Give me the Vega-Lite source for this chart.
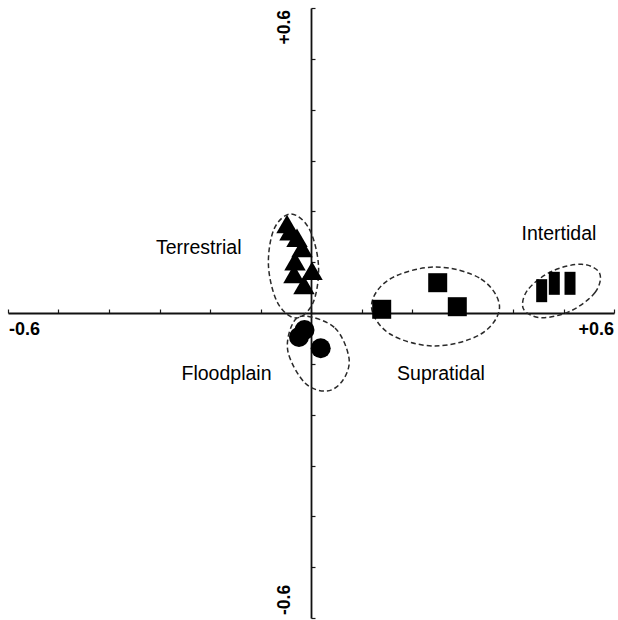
{
  "$schema": "https://vega.github.io/schema/vega-lite/v6.json",
  "width": 606,
  "height": 610,
  "autosize": {"type": "none"},
  "padding": {"left": 8, "top": 8, "right": 4, "bottom": 2},
  "background": "white",
  "config": {"view": {"stroke": null}, "font": "Liberation Sans"},
  "datasets": {
    "samples": [
      {"habitat": "Terrestrial", "x": -0.0475, "y": 0.175},
      {"habitat": "Terrestrial", "x": -0.0416, "y": 0.161},
      {"habitat": "Terrestrial", "x": -0.0277, "y": 0.148},
      {"habitat": "Terrestrial", "x": -0.0178, "y": 0.128},
      {"habitat": "Terrestrial", "x": -0.0317, "y": 0.102},
      {"habitat": "Terrestrial", "x": 0.002, "y": 0.083},
      {"habitat": "Terrestrial", "x": -0.0337, "y": 0.077},
      {"habitat": "Terrestrial", "x": -0.0139, "y": 0.055},
      {"habitat": "Floodplain", "x": -0.0129, "y": -0.0334},
      {"habitat": "Floodplain", "x": -0.0238, "y": -0.0472},
      {"habitat": "Floodplain", "x": 0.0192, "y": -0.0694},
      {"habitat": "Supratidal", "x": 0.140, "y": 0.0073},
      {"habitat": "Supratidal", "x": 0.2509, "y": 0.0596},
      {"habitat": "Supratidal", "x": 0.2897, "y": 0.0124},
      {"habitat": "Intertidal", "x": 0.4568, "y": 0.0439},
      {"habitat": "Intertidal", "x": 0.4818, "y": 0.0584},
      {"habitat": "Intertidal", "x": 0.5129, "y": 0.0584}
    ],
    "ellipses": [
      {"habitat": "Terrestrial", "i": 0, "x": -0.0396, "y": 0.1948},
      {"habitat": "Terrestrial", "i": 1, "x": -0.0032, "y": 0.1649},
      {"habitat": "Terrestrial", "i": 2, "x": 0.0149, "y": 0.0925},
      {"habitat": "Terrestrial", "i": 3, "x": 0.0040, "y": 0.0201},
      {"habitat": "Terrestrial", "i": 4, "x": -0.0297, "y": -0.0098},
      {"habitat": "Terrestrial", "i": 5, "x": -0.0661, "y": 0.0201},
      {"habitat": "Terrestrial", "i": 6, "x": -0.0842, "y": 0.0925},
      {"habitat": "Terrestrial", "i": 7, "x": -0.0733, "y": 0.1649},
      {"habitat": "Floodplain", "i": 0, "x": -0.0119, "y": -0.0059},
      {"habitat": "Floodplain", "i": 1, "x": 0.0475, "y": -0.0295},
      {"habitat": "Floodplain", "i": 2, "x": 0.0752, "y": -0.0885},
      {"habitat": "Floodplain", "i": 3, "x": 0.0634, "y": -0.1318},
      {"habitat": "Floodplain", "i": 4, "x": 0.0317, "y": -0.1535},
      {"habitat": "Floodplain", "i": 5, "x": -0.0119, "y": -0.1377},
      {"habitat": "Floodplain", "i": 6, "x": -0.0455, "y": -0.0767},
      {"habitat": "Floodplain", "i": 7, "x": -0.0376, "y": -0.0236},
      {"habitat": "Supratidal", "i": 0, "x": 0.2475, "y": 0.0905},
      {"habitat": "Supratidal", "i": 1, "x": 0.3366, "y": 0.0669},
      {"habitat": "Supratidal", "i": 2, "x": 0.3733, "y": 0.0118},
      {"habitat": "Supratidal", "i": 3, "x": 0.3366, "y": -0.0413},
      {"habitat": "Supratidal", "i": 4, "x": 0.2455, "y": -0.0649},
      {"habitat": "Supratidal", "i": 5, "x": 0.1564, "y": -0.0413},
      {"habitat": "Supratidal", "i": 6, "x": 0.1198, "y": 0.0138},
      {"habitat": "Supratidal", "i": 7, "x": 0.1564, "y": 0.0669},
      {"habitat": "Intertidal", "i": 0, "x": 0.5715, "y": 0.0783},
      {"habitat": "Intertidal", "i": 1, "x": 0.5624, "y": 0.0403},
      {"habitat": "Intertidal", "i": 2, "x": 0.5145, "y": 0.0041},
      {"habitat": "Intertidal", "i": 3, "x": 0.4558, "y": -0.0092},
      {"habitat": "Intertidal", "i": 4, "x": 0.4206, "y": 0.0083},
      {"habitat": "Intertidal", "i": 5, "x": 0.4297, "y": 0.0462},
      {"habitat": "Intertidal", "i": 6, "x": 0.4776, "y": 0.0824},
      {"habitat": "Intertidal", "i": 7, "x": 0.5362, "y": 0.0958}
    ],
    "groupLabels": [
      {"label": "Terrestrial", "x": -0.2224, "y": 0.127},
      {"label": "Floodplain", "x": -0.1673, "y": -0.12},
      {"label": "Supratidal", "x": 0.2574, "y": -0.12},
      {"label": "Intertidal", "x": 0.491, "y": 0.155}
    ],
    "axisLabels": [
      {"label": "-0.6", "x": -0.6, "y": 0},
      {"label": "+0.6", "x": 0.6, "y": 0},
      {"label": "+0.6", "x": 0, "y": 0.6},
      {"label": "-0.6", "x": 0, "y": -0.6}
    ]
  },
  "encoding": {
    "x": {
      "field": "x", "type": "quantitative",
      "scale": {"domain": [-0.6, 0.6], "nice": false, "zero": false},
      "axis": {
        "orient": "top", "offset": -305, "title": null, "labels": false, "grid": false,
        "values": [-0.6, -0.5, -0.4, -0.3, -0.2, -0.1, 0, 0.1, 0.2, 0.3, 0.4, 0.5, 0.6],
        "tickSize": 4, "tickColor": "#1a1a1a", "tickWidth": 1.2,
        "domainColor": "#111111", "domainWidth": 1.8
      }
    },
    "y": {
      "field": "y", "type": "quantitative",
      "scale": {"domain": [-0.6, 0.6], "nice": false, "zero": false},
      "axis": {
        "orient": "right", "offset": -303, "title": null, "labels": false, "grid": false,
        "values": [-0.6, -0.5, -0.4, -0.3, -0.2, -0.1, 0, 0.1, 0.2, 0.3, 0.4, 0.5, 0.6],
        "tickSize": 4, "tickColor": "#1a1a1a", "tickWidth": 1.2,
        "domainColor": "#111111", "domainWidth": 1.8
      }
    }
  },
  "layer": [
    {
      "data": {"name": "ellipses"},
      "mark": {"type": "line", "interpolate": "cardinal-closed", "strokeDash": [5, 3], "strokeWidth": 1.5, "stroke": "#2a2a2a"},
      "encoding": {
        "detail": {"field": "habitat", "type": "nominal"},
        "order": {"field": "i", "type": "quantitative"}
      }
    },
    {
      "data": {"name": "samples"},
      "transform": [{"filter": "datum.habitat === 'Terrestrial'"}],
      "mark": {"type": "point", "shape": "triangle-up", "size": 460, "filled": true, "fill": "#000000", "opacity": 1, "strokeWidth": 0}
    },
    {
      "data": {"name": "samples"},
      "transform": [{"filter": "datum.habitat === 'Floodplain'"}],
      "mark": {"type": "point", "shape": "circle", "size": 400, "filled": true, "fill": "#000000", "opacity": 1, "strokeWidth": 0}
    },
    {
      "data": {"name": "samples"},
      "transform": [{"filter": "datum.habitat === 'Supratidal'"}],
      "mark": {"type": "point", "shape": "square", "size": 361, "filled": true, "fill": "#000000", "opacity": 1, "strokeWidth": 0}
    },
    {
      "data": {"name": "samples"},
      "transform": [{"filter": "datum.habitat === 'Intertidal'"}],
      "mark": {"type": "point", "shape": "M-0.478,-1H0.478V1H-0.478Z", "size": 529, "filled": true, "fill": "#000000", "opacity": 1, "strokeWidth": 0}
    },
    {
      "data": {"name": "groupLabels"},
      "mark": {"type": "text", "fontSize": 19.5, "font": "Liberation Sans", "align": "center", "baseline": "middle", "fill": "#000000"},
      "encoding": {"text": {"field": "label"}}
    },
    {
      "data": {"name": "axisLabels"},
      "transform": [{"filter": "datum.y === 0 && datum.x < 0"}],
      "mark": {"type": "text", "fontSize": 18, "fontWeight": "bold", "font": "Liberation Sans", "align": "left", "baseline": "middle", "dx": 1, "dy": 17, "fill": "#000000"},
      "encoding": {"text": {"field": "label"}}
    },
    {
      "data": {"name": "axisLabels"},
      "transform": [{"filter": "datum.y === 0 && datum.x > 0"}],
      "mark": {"type": "text", "fontSize": 18, "fontWeight": "bold", "font": "Liberation Sans", "align": "right", "baseline": "middle", "dx": 0, "dy": 17, "fill": "#000000"},
      "encoding": {"text": {"field": "label"}}
    },
    {
      "data": {"name": "axisLabels"},
      "transform": [{"filter": "datum.x === 0 && datum.y > 0"}],
      "mark": {"type": "text", "fontSize": 17.5, "fontWeight": "bold", "font": "Liberation Sans", "angle": 270, "align": "right", "baseline": "middle", "dx": -2, "dy": -26, "fill": "#000000"},
      "encoding": {"text": {"field": "label"}}
    },
    {
      "data": {"name": "axisLabels"},
      "transform": [{"filter": "datum.x === 0 && datum.y < 0"}],
      "mark": {"type": "text", "fontSize": 17.5, "fontWeight": "bold", "font": "Liberation Sans", "angle": 270, "align": "left", "baseline": "middle", "dx": 3, "dy": -26, "fill": "#000000"},
      "encoding": {"text": {"field": "label"}}
    }
  ]
}
